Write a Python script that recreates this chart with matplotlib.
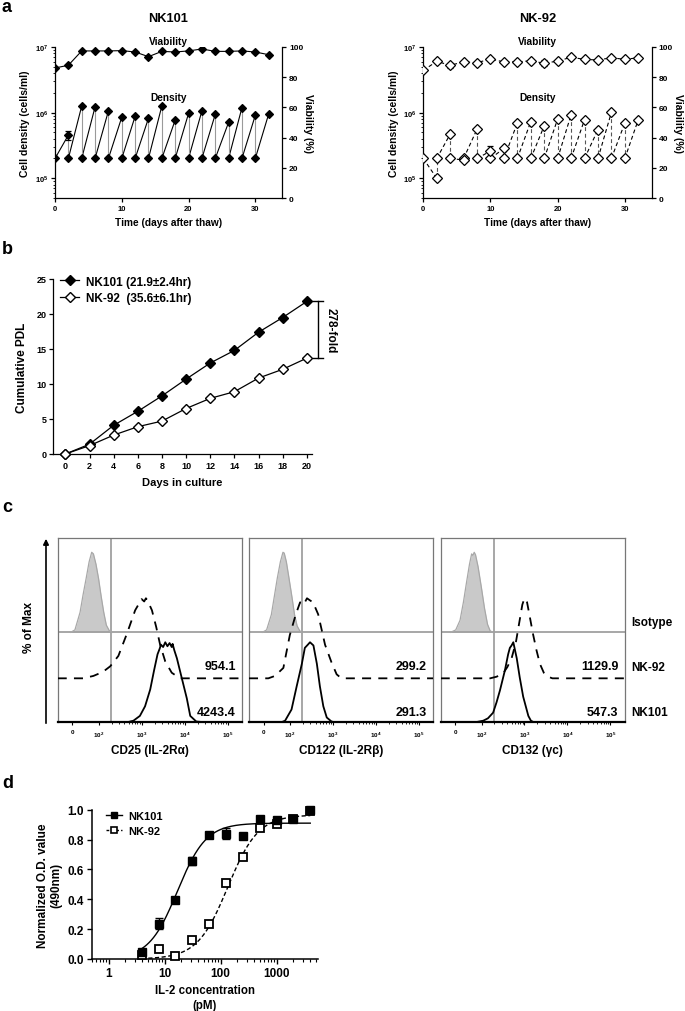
import numpy as np
import matplotlib
matplotlib.use('Agg')
import matplotlib.pyplot as plt
import matplotlib.transforms as mtransforms
from matplotlib.lines import Line2D

plt.rcParams['font.family'] = ['Liberation Sans', 'DejaVu Sans']
plt.rcParams['font.weight'] = 'bold'
plt.rcParams['axes.labelweight'] = 'bold'
plt.rcParams['axes.titleweight'] = 'bold'
plt.rcParams['mathtext.fontset'] = 'custom'
plt.rcParams['mathtext.rm'] = 'Liberation Sans:bold'
plt.rcParams['mathtext.bf'] = 'Liberation Sans:bold'
plt.rcParams['mathtext.default'] = 'bf'

# ---------------- data: panel a ----------------
days = [0, 2, 4, 6, 8, 10, 12, 14, 16, 18, 20, 22, 24, 26, 28, 30, 32]
nk101_viability = [86.1, 87.9, 97.4, 97.4, 97.4, 97.6, 96.7, 93.6, 97.1, 96.7, 97.4, 98.7, 97.1, 97.1, 97.4, 96.7, 94.9]
nk101_density_high = [np.nan, 4.55e5, 1.26e6, 1.22e6, 1.06e6, 8.5e5, 8.8e5, 8.2e5, 1.26e6, 7.7e5, 9.7e5, 1.06e6, 9.4e5, 7.1e5, 1.19e6, 9.1e5, 9.5e5]
nk101_density_high_err = [0, 0.75e5, 0, 0, 0, 0, 0, 0, 0, 0, 0, 0, 0, 0, 0, 0, 0]
nk101_density_seed = [2e5, 2e5, 2e5, 2e5, 2e5, 2e5, 2e5, 2e5, 2e5, 2e5, 2e5, 2e5, 2e5, 2e5, 2e5, 2e5, np.nan]
nk101_viability_err = [0] * 17

nk92_viability = [84.5, 90.5, 87.9, 90.1, 89.6, 92.1, 90.1, 90.1, 90.9, 89.2, 90.7, 93.2, 91.8, 91.4, 92.9, 91.8, 92.9]
nk92_viability_err = [0, 0, 1.6, 0, 0, 0, 0, 0, 0, 2.0, 0, 0, 0, 0, 0, 0, 0]
nk92_density_high = [np.nan, 1.0e5, 4.7e5, 1.9e5, 5.6e5, 2.6e5, 2.85e5, 6.95e5, 7.3e5, 6.3e5, 8.0e5, 9.3e5, 7.8e5, 5.5e5, 1.01e6, 6.95e5, 7.8e5]
nk92_density_high_err = [0, 0.05e5, 0, 0, 0, 0.5e5, 0, 0, 0, 0, 0, 0, 0, 0, 0, 0, 0]
nk92_density_seed = [2e5, 2e5, 2e5, 2e5, 2e5, 2e5, 2e5, 2e5, 2e5, 2e5, 2e5, 2e5, 2e5, 2e5, 2e5, 2e5, np.nan]

# ---------------- data: panel b ----------------
pdl_days = [0, 2, 4, 6, 8, 10, 12, 14, 16, 18, 20]
nk101_pdl = [0, 1.4, 4.1, 6.1, 8.3, 10.7, 13.0, 14.8, 17.4, 19.5, 21.8]
nk92_pdl = [0, 1.2, 2.7, 3.9, 4.7, 6.5, 7.95, 8.9, 10.85, 12.1, 13.7]
fold_label = '278-fold'

# ---------------- data: panel c (log10 fluorescence, % of max) ----------------
flow_tick_pos = [1.39, 2, 3, 4, 5]
flow_tick_labels = ['0', '$10^2$', '$10^3$', '$10^4$', '$10^5$']
gate_logfl = 2.29

iso_cd25_x = [1.35, 1.45, 1.57, 1.64, 1.71, 1.78, 1.84, 1.88, 1.94, 2.0, 2.06, 2.12, 2.18, 2.25, 2.32]
iso_cd25_p = [0, 3, 25, 47, 67, 88, 100, 98, 85, 67, 45, 25, 9, 2, 0]
nk92_cd25_x = [1.64, 1.88, 2.10, 2.27, 2.46, 2.66, 2.85, 3.0, 3.06, 3.10, 3.14, 3.24, 3.34, 3.43, 3.55, 3.70, 3.89]
nk92_cd25_p = [0, 3, 8, 15, 28, 56, 85, 99, 96, 100, 97, 85, 64, 42, 21, 7, 0]
nk101_cd25_x = [2.66, 2.81, 2.96, 3.08, 3.20, 3.29, 3.37, 3.42, 3.45, 3.50, 3.55, 3.60, 3.65, 3.70, 3.72, 3.76, 3.82, 3.93, 4.05, 4.13, 4.27, 4.48]
nk101_cd25_p = [0, 2, 8, 20, 41, 65, 85, 92, 97, 94, 100, 95, 99, 94, 98, 90, 80, 56, 30, 8, 1, 0]

iso_cd122_x = [1.36, 1.46, 1.57, 1.64, 1.71, 1.78, 1.84, 1.87, 1.92, 1.98, 2.05, 2.11, 2.17, 2.23, 2.28]
iso_cd122_p = [0, 3, 22, 45, 68, 88, 100, 99, 88, 68, 44, 22, 8, 2, 0]
nk92_cd122_x = [1.50, 1.655, 1.85, 2.0, 2.14, 2.24, 2.32, 2.40, 2.48, 2.54, 2.66, 2.82, 2.97, 3.09, 3.2]
nk92_cd122_p = [0, 3, 13, 54, 80, 95, 92, 100, 97, 95, 80, 42, 20, 5, 0]
nk101_cd122_x = [1.80, 1.89, 2.04, 2.16, 2.28, 2.35, 2.42, 2.47, 2.55, 2.63, 2.70, 2.78, 2.86, 2.97, 3.05]
nk101_cd122_p = [0, 2, 16, 45, 73, 93, 97, 100, 96, 73, 45, 20, 6, 1, 0]

iso_cd132_x = [1.28, 1.40, 1.50, 1.58, 1.65, 1.72, 1.77, 1.80, 1.83, 1.86, 1.92, 2.0, 2.07, 2.14, 2.20, 2.26]
iso_cd132_p = [0, 3, 15, 38, 62, 85, 98, 96, 100, 97, 82, 55, 30, 10, 2, 0]
nk92_cd132_x = [2.2, 2.35, 2.5, 2.6, 2.7, 2.8, 2.88, 2.95, 3.0, 3.06, 3.12, 3.2, 3.28, 3.36, 3.45, 3.55, 3.65]
nk92_cd132_p = [0, 2, 6, 14, 25, 45, 70, 92, 100, 95, 78, 55, 35, 18, 7, 2, 0]
nk101_cd132_x = [1.85, 2.04, 2.15, 2.27, 2.35, 2.43, 2.545, 2.62, 2.66, 2.70, 2.74, 2.82, 2.89, 2.97, 3.09, 3.15, 3.22]
nk101_cd132_p = [0, 2, 5, 12, 25, 40, 65, 85, 93, 96, 100, 80, 56, 32, 8, 2, 0]

mfi_nk92 = ['954.1', '299.2', '1129.9']
mfi_nk101 = ['4243.4', '291.3', '547.3']
flow_xlabels = ['CD25 (IL-2Rα)', 'CD122 (IL-2Rβ)', 'CD132 (γc)']
row_labels = ['Isotype', 'NK-92', 'NK101']

# ---------------- data: panel d ----------------
il2_conc = [3.9, 7.8, 15.6, 31.25, 62.5, 125, 250, 500, 1000, 2000, 4000]
nk101_od = [0.045, 0.236, 0.397, 0.656, 0.832, 0.84, 0.823, 0.94, 0.93, 0.94, 1.0]
nk101_od_err = [0, 0.037, 0, 0.027, 0, 0.035, 0, 0, 0, 0, 0]
nk92_od = [0.03, 0.066, 0.022, 0.126, 0.236, 0.508, 0.68, 0.876, 0.905, 0.94, 0.99]
nk101_fit = dict(bottom=0.0, top=0.91, ec50=17.0, hill=1.7)
nk92_fit = dict(bottom=0.0, top=0.965, ec50=135.0, hill=1.6)

# ---------------- figure ----------------
W, H = 685, 1012
fig = plt.figure(figsize=(W / 100, H / 100), dpi=100)


def px_axes(x0, y0, x1, y1):
    return fig.add_axes([x0 / W, 1 - y1 / H, (x1 - x0) / W, (y1 - y0) / H])


def ftext(x, y, s, **kw):
    return fig.text(x / W, 1 - y / H, s, **kw)


LW = 0.9

# ---------------- panel a ----------------
def growth_panel(x0, x1, title, viab, viab_err, high, high_err, seed, filled, dashed):
    ax = px_axes(x0, 48, x1, 199)
    ax.set_yscale('log')
    ax.set_ylim(5e4, 1e7)
    ax.set_xlim(0, 34)
    ax2 = ax.twinx()
    ax2.set_ylim(0, 100)
    ls = (0, (3.5, 2.5)) if dashed else '-'
    mfc = 'black' if filled else 'white'
    vcol = '#555555' if dashed else '#9a9a9a'
    ms = 4.3 if filled else 4.8
    xs, ys = [], []
    for i in range(len(days) - 1):
        if not np.isnan(seed[i]) and not np.isnan(high[i + 1]):
            xs += [days[i], days[i + 1], np.nan]
            ys += [seed[i], high[i + 1], np.nan]
    ax.plot(xs, ys, color='black', lw=0.8, ls=ls, zorder=2)
    vx, vy = [], []
    for i in range(len(days)):
        if not np.isnan(seed[i]) and not np.isnan(high[i]):
            vx += [days[i], days[i], np.nan]
            vy += [high[i], seed[i], np.nan]
    ax.plot(vx, vy, color=vcol, lw=0.8, ls=ls, zorder=2)
    ax.errorbar(days, high, yerr=high_err, fmt='D', ms=ms, mfc=mfc, mec='black', mew=0.9,
                ecolor='black', elinewidth=0.8, capsize=2.5, capthick=0.8, zorder=3)
    ax.plot(days, seed, 'D', ms=ms, mfc=mfc, mec='black', mew=0.9, zorder=3)
    ax2.errorbar(days, viab, yerr=viab_err, fmt='D', ls=ls, color='black', lw=0.8, ms=ms,
                 mfc=mfc, mec='black', mew=0.9, ecolor='black', elinewidth=0.8,
                 capsize=2.5, capthick=0.8, zorder=3)
    for a in (ax, ax2):
        a.spines['top'].set_visible(False)
        for s in a.spines.values():
            s.set_linewidth(LW)
    ax2.spines['left'].set_visible(False)
    ax2.spines['bottom'].set_visible(False)
    ax.spines['right'].set_visible(False)
    ax.set_xticks([0, 10, 20, 30])
    ax.set_yticks([1e5, 1e6, 1e7])
    ax.set_yticklabels(['$10^5$', '$10^6$', '$10^7$'])
    ax.tick_params(axis='both', which='major', labelsize=5.5, length=3, width=LW, pad=2)
    ax.tick_params(axis='y', which='minor', length=1.6, width=0.6)
    ax2.set_yticks([0, 20, 40, 60, 80, 100])
    ax2.tick_params(axis='y', labelsize=6, length=3, width=LW, pad=2)
    ax.set_ylabel('Cell density (cells/ml)', fontsize=7.5, labelpad=3)
    ax2.set_ylabel('Viability (%)', fontsize=7.5, rotation=270, labelpad=7)
    ax.set_xlabel('Time (days after thaw)', fontsize=7.3, labelpad=4)
    ax.text(0.5, 1.04, 'Viability', transform=ax.transAxes, ha='center', va='center', fontsize=7.3)
    ax.text(0.5, 0.67, 'Density', transform=ax.transAxes, ha='center', va='center', fontsize=7.3)
    ax.set_title(title, fontsize=9.3, pad=19, fontweight='bold')
    return ax


growth_panel(55, 282, 'NK101', nk101_viability, nk101_viability_err, nk101_density_high,
             nk101_density_high_err, nk101_density_seed, True, False)
growth_panel(423.3, 651.7, 'NK-92', nk92_viability, nk92_viability_err, nk92_density_high,
             nk92_density_high_err, nk92_density_seed, False, True)

# ---------------- panel b ----------------
axb = px_axes(53.3, 280, 311.7, 455)
axb.plot(pdl_days, nk101_pdl, '-D', color='black', lw=0.9, ms=5.5, mfc='black', mec='black',
         mew=1.0, label='NK101 (21.9±2.4hr)', clip_on=False, zorder=3)
axb.plot(pdl_days, nk92_pdl, '-D', color='black', lw=0.9, ms=5.5, mfc='white', mec='black',
         mew=1.0, label='NK-92  (35.6±6.1hr)', clip_on=False, zorder=3)
axb.set_xlim(-1, 20.4)
axb.set_ylim(0, 25)
axb.set_xticks(pdl_days)
axb.set_yticks([0, 5, 10, 15, 20, 25])
for s in ['top', 'right']:
    axb.spines[s].set_visible(False)
for s in axb.spines.values():
    s.set_linewidth(LW)
axb.tick_params(labelsize=6.5, length=3, width=LW, pad=2)
axb.set_ylabel('Cumulative PDL', fontsize=8.5, labelpad=6)
axb.set_xlabel('Days in culture', fontsize=8, labelpad=5)
axb.legend(loc='upper left', bbox_to_anchor=(0.0, 1.06), frameon=False, fontsize=8.5,
           handlelength=1.6, handletextpad=0.6, labelspacing=0.35, borderaxespad=0.2)
trb = mtransforms.blended_transform_factory(axb.transAxes, axb.transData)
yb_top, yb_bot = nk101_pdl[-1], nk92_pdl[-1]
axb.plot([1.025, 1.025], [yb_bot, yb_top], color='black', lw=1.0, transform=trb, clip_on=False)
axb.plot([1.005, 1.045], [yb_top, yb_top], color='black', lw=1.0, transform=trb, clip_on=False)
axb.plot([1.005, 1.045], [yb_bot, yb_bot], color='black', lw=1.0, transform=trb, clip_on=False)
axb.text(1.072, (yb_top + yb_bot) / 2, fold_label, transform=trb, rotation=270,
         ha='center', va='center', fontsize=8.5)

# ---------------- panel c ----------------
flow_xmin, flow_xmax = 1.05, 5.34
base_nk101, base_nk92, base_iso = 0.0, 0.239, 0.489
pscale = 0.00435
flow_boxes = [(57.7, 242.3), (249.0, 433.3), (440.7, 625.0)]
flow_data = [
    (iso_cd25_x, iso_cd25_p, nk92_cd25_x, nk92_cd25_p, nk101_cd25_x, nk101_cd25_p),
    (iso_cd122_x, iso_cd122_p, nk92_cd122_x, nk92_cd122_p, nk101_cd122_x, nk101_cd122_p),
    (iso_cd132_x, iso_cd132_p, nk92_cd132_x, nk92_cd132_p, nk101_cd132_x, nk101_cd132_p),
]
minor_pos = [np.log10(k * 10 ** d) for d in (2, 3, 4) for k in range(2, 10)]
for i, ((x0, x1), (ix, ip, dx, dp, sx, sp)) in enumerate(zip(flow_boxes, flow_data)):
    ax = px_axes(x0, 539.3, x1, 723.3)
    ax.set_xlim(flow_xmin, flow_xmax)
    ax.set_ylim(0, 1)
    ip_a = np.array(ip)
    ax.fill_between(ix, base_iso, base_iso + ip_a * pscale, color='#c9c9c9', lw=0, zorder=1)
    ax.plot(ix, base_iso + ip_a * pscale, color='#a8a8a8', lw=0.9, zorder=1.5)
    ax.axhline(base_iso, color='#a0a0a0', lw=1.3, zorder=1.2)
    ax.axvline(gate_logfl, color='#a0a0a0', lw=1.3, zorder=1.2)
    dxx = [flow_xmin] + list(dx) + [flow_xmax]
    dpp = np.array([0] + list(dp) + [0])
    ax.plot(dxx, base_nk92 + dpp * pscale, color='black', lw=1.3, ls=(0, (5, 4)), zorder=3)
    sxx = [flow_xmin] + list(sx) + [flow_xmax]
    spp = np.array([0] + list(sp) + [0])
    ax.plot(sxx, base_nk101 + spp * pscale, color='black', lw=1.3, zorder=3)
    for s in ax.spines.values():
        s.set_color('#777777')
        s.set_linewidth(0.9)
    ax.spines['bottom'].set_color('black')
    ax.spines['bottom'].set_linewidth(1.6)
    ax.set_yticks([])
    ax.set_xticks(flow_tick_pos)
    ax.set_xticklabels(flow_tick_labels)
    ax.set_xticks(minor_pos, minor=True)
    ax.tick_params(axis='x', which='major', labelsize=4.5, length=2, width=0.8, pad=3)
    ax.tick_params(axis='x', which='minor', length=1.2, width=0.6)
    ax.text(0.965, 0.308, mfi_nk92[i], transform=ax.transAxes, ha='right', va='center', fontsize=9)
    ax.text(0.965, 0.058, mfi_nk101[i], transform=ax.transAxes, ha='right', va='center', fontsize=9)
    ax.set_xlabel(flow_xlabels[i], fontsize=8.5, labelpad=4)

ftext(631, 623, row_labels[0], ha='left', va='center', fontsize=8.5)
ftext(631, 668, row_labels[1], ha='left', va='center', fontsize=8.5)
ftext(631, 713, row_labels[2], ha='left', va='center', fontsize=8.5)
fig.add_artist(matplotlib.patches.FancyArrowPatch((46 / W, 1 - 727 / H), (46 / W, 1 - 537 / H),
                                                  transform=fig.transFigure, arrowstyle='-|>',
                                                  mutation_scale=8, lw=1.2, color='black'))
ftext(29, 628, '% of Max', rotation=90, ha='center', va='center', fontsize=8.5)

# ---------------- panel d ----------------
axd = px_axes(91.7, 810.7, 318, 960)
xfit = np.logspace(np.log10(il2_conc[0]), np.log10(il2_conc[-1]), 300)


def logistic(x, p):
    return p['bottom'] + (p['top'] - p['bottom']) / (1 + (p['ec50'] / x) ** p['hill'])


axd.plot(xfit, logistic(xfit, nk92_fit), color='black', lw=1.0, ls=(0, (3, 1.8)), zorder=2)
axd.plot(xfit, logistic(xfit, nk101_fit), color='black', lw=1.0, zorder=2)
axd.plot(il2_conc, nk92_od, 's', ms=5.2, mfc='white', mec='black', mew=1.3, zorder=3, clip_on=False)
axd.errorbar(il2_conc, nk101_od, yerr=nk101_od_err, fmt='s', ms=5.2, mfc='black', mec='black',
             ecolor='black', elinewidth=1.0, capsize=3, capthick=1.0, zorder=4, clip_on=False)
axd.set_xscale('log')
axd.set_xlim(0.5, 5500)
axd.set_ylim(0, 1.0)
axd.set_yticks([0, 0.2, 0.4, 0.6, 0.8, 1.0])
axd.set_yticklabels(['0.0', '0.2', '0.4', '0.6', '0.8', '1.0'])
axd.set_xticks([1, 10, 100, 1000])
axd.set_xticklabels(['1', '10', '100', '1000'])
for s in ['top', 'right']:
    axd.spines[s].set_visible(False)
for s in axd.spines.values():
    s.set_linewidth(1.1)
axd.tick_params(axis='both', which='major', labelsize=8.5, length=3.5, width=1.0, pad=2)
axd.tick_params(axis='x', which='minor', length=2, width=0.8)
axd.set_ylabel('Normalized O.D. value\n(490nm)', fontsize=8.5, labelpad=4, linespacing=1.1)
axd.set_xlabel('IL-2 concentration\n(pM)', fontsize=8.3, labelpad=4, linespacing=1.3)
h1 = Line2D([], [], color='black', lw=1.0, marker='s', ms=5, mfc='black', mec='black')
h2 = Line2D([], [], color='black', lw=1.0, ls=(0, (2, 1.5)), marker='s', ms=5, mfc='white', mec='black', mew=1.2)
axd.legend([h1, h2], ['NK101', 'NK-92'], loc='upper left', bbox_to_anchor=(0.02, 1.06), frameon=False,
           fontsize=8, handlelength=1.4, handletextpad=0.6, labelspacing=0.45)

# ---------------- panel letters ----------------
for lab, y in [('a', 8), ('b', 250), ('c', 508), ('d', 784)]:
    ftext(2, y, lab, ha='left', va='center', fontsize=13)

fig.savefig('out.png', dpi=100)
